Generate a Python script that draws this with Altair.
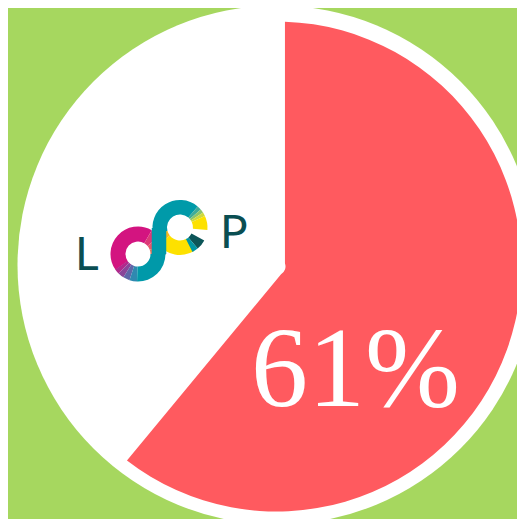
import altair as alt
import pandas as pd

# ---- pie data ----
categories = ["Yes", "No"]
values = [61, 39]
order_idx = [0, 1]
slice_colors = ["#ff5a5f", "#ffffff"]

# ---- logo (LOOP) ring segments: start/end angle in degrees, clockwise from top ----
left_ring_d0 = [235, 30, 50, 70, 225, 212, 198, 182, 90]
left_ring_d1 = [390, 50, 70, 92, 236, 225, 212, 198, 182]
left_ring_col = ["#d31480", "#dc3a78", "#e4586c", "#e8765f",
                 "#b02a8c", "#8a4599", "#5e67a8", "#2f89b0", "#0099a9"]

right_ring_d0 = [150, 232, 255, 40, 49, 57, 65, 118, 140]
right_ring_d1 = [232, 255, 400, 49, 57, 65, 95, 140, 153]
right_ring_col = ["#fde100", "#f7b91e", "#009aa9", "#3fab98", "#8cc46a",
                  "#cfd83c", "#fde100", "#0c5558", "#0095a3"]

logo_letters = ["L", "P"]

GREEN = "#a6d75f"
TEAL_DARK = "#0a4e52"

pie_df = pd.DataFrame({"category": categories, "value": values, "idx": order_idx})
left_df = pd.DataFrame({"d0": left_ring_d0, "d1": left_ring_d1, "c": left_ring_col})
right_df = pd.DataFrame({"d0": right_ring_d0, "d1": right_ring_d1, "c": right_ring_col})
letters_df = pd.DataFrame({"letter": logo_letters})

# offset of the drawing area inside the page (8px page margin)
OX, OY = 8, 8

base = alt.Chart(pie_df)

# white disc behind the pie (one seamless full circle = total of all slices)
disc = base.transform_aggregate(total="sum(value)").mark_arc(
    color="white", outerRadius=259.5
).encode(
    theta=alt.Theta("total:Q"),
    x=alt.value(277 - OX),
    y=alt.value(265 - OY),
)

pie = base.mark_arc(innerRadius=9, outerRadius=245, padAngle=0.069).encode(
    theta=alt.Theta("value:Q", stack=True),
    order=alt.Order("idx:Q"),
    color=alt.Color("category:N",
                    scale=alt.Scale(domain=categories, range=slice_colors),
                    legend=None),
    x=alt.value(276.5 - OX),
    y=alt.value(266.5 - OY),
)

label = base.transform_filter(alt.datum.category == "Yes").transform_calculate(
    label="datum.value + '%'"
).mark_text(
    font="Liberation Serif", fontSize=114, color="white",
    align="center", baseline="alphabetic"
).encode(
    text="label:N",
    x=alt.value(355.5 - OX),
    y=alt.value(406 - OY),
)


def ring(df, cx, cy, r0):
    return alt.Chart(df).transform_calculate(
        t0="datum.d0 * PI / 180", t1="datum.d1 * PI / 180"
    ).mark_arc(innerRadius=r0, outerRadius=27.5).encode(
        theta=alt.Theta("t0:Q", scale=None),
        theta2="t1:Q",
        color=alt.Color("c:N", scale=None),
        x=alt.value(cx - OX),
        y=alt.value(cy - OY),
    )


left_ring = ring(left_df, 138, 254, 12.5)
right_ring = ring(right_df, 180, 227.5, 13)

band = alt.Chart(pd.DataFrame({"k": [0]})).mark_rule(
    strokeWidth=14.5, color="#009aa9"
).encode(x=alt.value(159 - OX), y=alt.value(228 - OY), y2=alt.value(254 - OY))

letter_L = alt.Chart(letters_df).transform_filter(alt.datum.letter == "L").mark_text(
    font="Lato", fontSize=46, color=TEAL_DARK, align="left", baseline="alphabetic"
).encode(text="letter:N", x=alt.value(75 - OX), y=alt.value(270 - OY))

letter_P = alt.Chart(letters_df).transform_filter(alt.datum.letter == "P").mark_text(
    font="Lato", fontSize=46, color=TEAL_DARK, align="left", baseline="alphabetic"
).encode(text="letter:N", x=alt.value(220 - OX), y=alt.value(248 - OY))

page_css = (
    "html{background:%s;overflow:hidden}"
    "body{background:%s;overflow:visible}"
    "#vis,#vis.vega-embed{overflow:visible}"
    "#vis svg{display:block;overflow:visible}"
) % (GREEN, GREEN)

chart = alt.layer(
    disc, pie, label, left_ring, right_ring, band, letter_L, letter_P
).properties(
    width=509,
    height=511,
    padding=0,
    background=GREEN,
    autosize=alt.AutoSizeParams(type="none"),
    usermeta={"embedOptions": {"defaultStyle": page_css}},
).configure_view(strokeOpacity=0)

chart.save("out.html", embed_options={"renderer": "svg", "actions": False})
